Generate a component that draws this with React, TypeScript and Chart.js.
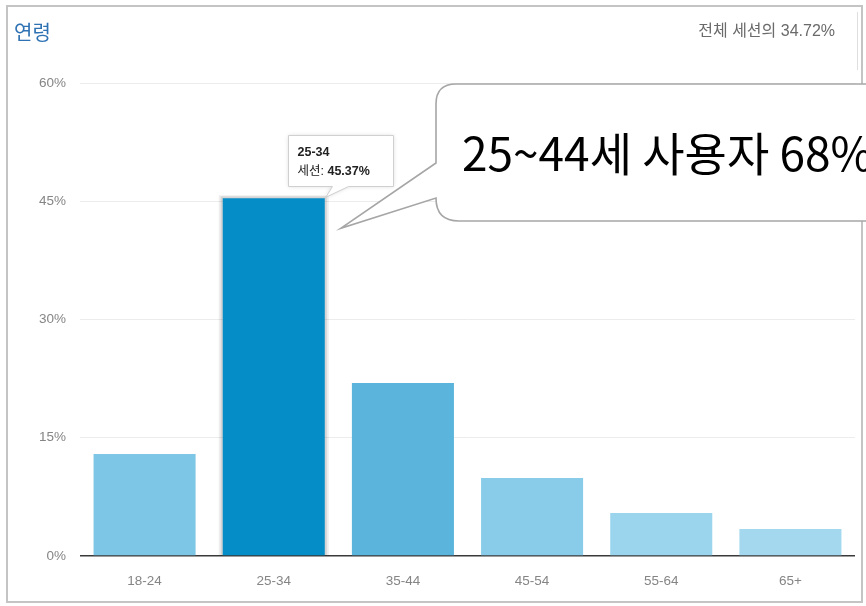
import React, { useEffect, useRef } from "react";
import { Chart, registerables } from "chart.js";

Chart.register(...registerables);

const categories = ["18-24", "25-34", "35-44", "45-54", "55-64", "65+"];
const sessionShare = [12.95, 45.37, 21.95, 9.9, 5.45, 3.42];
const barColors = ["#7dc6e5", "#058dc7", "#5ab4dc", "#88cce9", "#9bd5ed", "#a3d8ee"];
const yTicks = [0, 15, 30, 45, 60];
const titleText = "연령";
const totalText = "전체 세션의 34.72%";
const highlightIndex = 1;
const tooltipLabel = "세션: ";
const calloutText = "25~44세 사용자 68%";

const FONT = "'Liberation Sans', Arial, 'Noto Sans CJK KR', sans-serif";

function roundedPathCallout(ctx: CanvasRenderingContext2D, tipX: number, tipY: number) {
  const left = 436, top = 84, right = 905, bottom = 221;
  const r1 = 20, r2 = 23;
  const baseTop = 163, baseBottom = 198;
  ctx.beginPath();
  ctx.moveTo(left, baseTop);
  ctx.lineTo(left, top + r1);
  ctx.quadraticCurveTo(left, top, left + r1, top);
  ctx.lineTo(right, top);
  ctx.lineTo(right, bottom);
  ctx.lineTo(left + r2, bottom);
  ctx.quadraticCurveTo(left, bottom, left, baseBottom);
  ctx.lineTo(tipX, tipY);
  ctx.closePath();
}

const decorPlugin = {
  id: "decor",
  beforeDraw(chart: any) {
    const ctx: CanvasRenderingContext2D = chart.ctx;
    ctx.save();
    ctx.fillStyle = "#ffffff";
    ctx.fillRect(0, 0, chart.width, chart.height);
    // frame
    ctx.strokeStyle = "#c4c4c4";
    ctx.lineWidth = 2;
    ctx.strokeRect(7, 6, 855, 596);
    ctx.strokeStyle = "#dedede";
    ctx.lineWidth = 1;
    ctx.beginPath();
    ctx.moveTo(857.5, 12);
    ctx.lineTo(857.5, 70);
    ctx.stroke();
    // title
    ctx.fillStyle = "#2e72b4";
    ctx.font = "20px 'Noto Sans CJK KR', sans-serif";
    ctx.textBaseline = "alphabetic";
    ctx.textAlign = "left";
    ctx.fillText(titleText, 14, 40);
    ctx.fillStyle = "#6a6a6a";
    ctx.font = "16px " + FONT;
    ctx.textAlign = "right";
    ctx.fillText(totalText, 835, 36);
    ctx.restore();
  },
  beforeDatasetsDraw(chart: any) {
    const ctx: CanvasRenderingContext2D = chart.ctx;
    const bar = chart.getDatasetMeta(0).data[highlightIndex];
    if (!bar) return;
    const p = bar.getProps(["x", "y", "width", "base"], true);
    ctx.save();
    ctx.fillStyle = "rgba(0,0,0,0.07)";
    ctx.fillRect(p.x - p.width / 2 - 4, p.y - 3, p.width + 8, p.base - p.y + 3);
    ctx.fillStyle = "rgba(0,0,0,0.10)";
    ctx.fillRect(p.x - p.width / 2 - 2, p.y - 2, p.width + 4, p.base - p.y + 2);
    ctx.restore();
  },
  afterDraw(chart: any) {
    const ctx: CanvasRenderingContext2D = chart.ctx;
    const bar = chart.getDatasetMeta(0).data[highlightIndex];
    if (!bar) return;
    const p = bar.getProps(["x", "y", "width", "base"], true);
    const barRight = p.x + p.width / 2;
    const barTop = p.y;
    ctx.save();
    // tooltip
    const bl = Math.round(barRight - 37) + 0.5;
    const bb = Math.round(barTop - 12) + 0.5;
    const bt = bb - 51;
    const br = bl + 105;
    ctx.shadowColor = "rgba(0,0,0,0.15)";
    ctx.shadowBlur = 4;
    ctx.beginPath();
    ctx.moveTo(bl, bt);
    ctx.lineTo(br, bt);
    ctx.lineTo(br, bb);
    ctx.lineTo(bl + 60, bb);
    ctx.lineTo(barRight + 1, barTop - 1);
    ctx.lineTo(bl + 44, bb);
    ctx.lineTo(bl, bb);
    ctx.closePath();
    ctx.fillStyle = "#ffffff";
    ctx.fill();
    ctx.shadowColor = "transparent";
    ctx.strokeStyle = "#d0d0d0";
    ctx.lineWidth = 1;
    ctx.stroke();
    ctx.fillStyle = "#222";
    ctx.textAlign = "left";
    ctx.font = "bold 12.5px " + FONT;
    ctx.fillText(categories[highlightIndex], bl + 9, bt + 20);
    ctx.font = "12.5px " + FONT;
    ctx.fillText(tooltipLabel, bl + 9, bt + 39);
    const w = ctx.measureText(tooltipLabel).width;
    ctx.font = "bold 12.5px " + FONT;
    ctx.fillText(sessionShare[highlightIndex].toFixed(2) + "%", bl + 9 + w, bt + 39);

    // callout
    const tipX = barRight + 16;
    const tipY = barTop + 30;
    roundedPathCallout(ctx, tipX, tipY);
    ctx.fillStyle = "#ffffff";
    ctx.fill();
    ctx.strokeStyle = "#a6a6a6";
    ctx.lineWidth = 1.6;
    ctx.stroke();
    ctx.fillStyle = "#000000";
    ctx.font = "46px 'Noto Sans CJK KR', sans-serif";
    ctx.textAlign = "left";
    ctx.fillText(calloutText, 462, 171);
    ctx.restore();
  },
};

export default function App() {
  const ref = useRef<HTMLCanvasElement | null>(null);
  useEffect(() => {
    if (!ref.current) return;
    const chart = new Chart(ref.current, {
      type: "bar",
      data: {
        labels: categories,
        datasets: [
          {
            data: sessionShare,
            backgroundColor: barColors,
            borderWidth: 0,
            categoryPercentage: 0.79,
            barPercentage: 1,
          },
        ],
      },
      options: {
        responsive: false,
        animation: false,
        events: [],
        layout: { padding: { left: 0, right: 11, top: 83, bottom: 0 } },
        plugins: {
          legend: { display: false },
          tooltip: { enabled: false },
          title: { display: false },
        },
        scales: {
          x: {
            grid: { display: false },
            border: { display: false },
            ticks: {
              color: "#858585",
              font: { family: FONT, size: 13.5 },
              padding: 9,
            },
            afterFit: (s: any) => {
              s.height = 50;
            },
          },
          y: {
            min: 0,
            max: 60,
            afterBuildTicks: (s: any) => {
              s.ticks = yTicks.map((v) => ({ value: v }));
            },
            grid: {
              color: (c: any) => (c.tick && c.tick.value === 0 ? "#3a3a3a" : "#ececec"),
              lineWidth: (c: any) => (c.tick && c.tick.value === 0 ? 1.5 : 1),
              drawTicks: false,
            },
            border: { display: false },
            ticks: {
              color: "#858585",
              font: { family: FONT, size: 13.5 },
              padding: 14,
              callback: (v: any) => v + "%",
            },
            afterFit: (s: any) => {
              s.width = 80;
            },
          },
        },
      },
      plugins: [decorPlugin],
    });
    return () => chart.destroy();
  }, []);
  return (
    <div style={{ position: "absolute", left: 0, top: 0, width: 866, height: 606 }}>
      <canvas ref={ref} width={866} height={606} style={{ display: "block" }} />
    </div>
  );
}
